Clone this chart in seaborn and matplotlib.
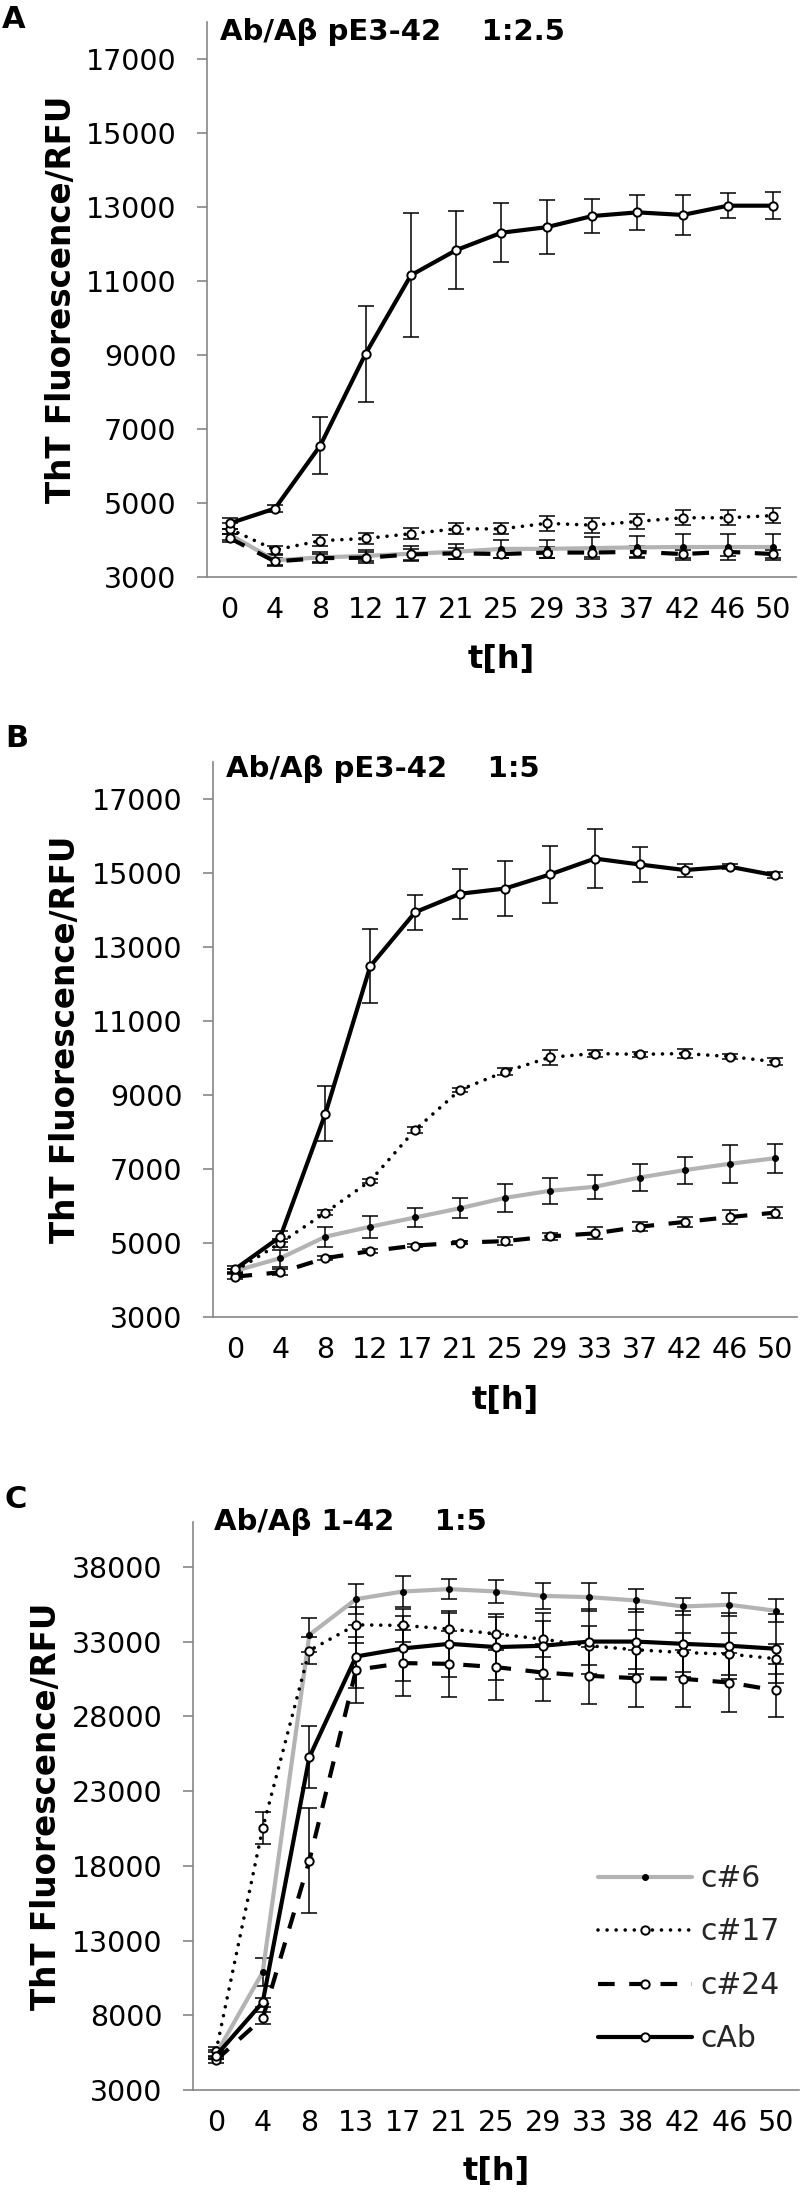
import numpy as np
import pandas as pd
import matplotlib
matplotlib.use("Agg")
import matplotlib.pyplot as plt
import seaborn as sns

# ---------------- data ----------------
time_ab = ["0", "4", "8", "12", "17", "21", "25", "29", "33", "37", "42", "46", "50"]
time_c = ["0", "4", "8", "13", "17", "21", "25", "29", "33", "38", "42", "46", "50"]
series_names = ["c#6", "c#17", "c#24", "cAb"]

# Panel A: Ab/Abeta pE3-42 1:2.5
a_c6 = [4150, 3450, 3530, 3570, 3630, 3680, 3760, 3760, 3780, 3800, 3810, 3810, 3810]
a_c6_err = [150, 150, 150, 150, 200, 200, 250, 250, 300, 300, 350, 350, 350]
a_c17 = [4300, 3730, 3980, 4040, 4170, 4300, 4300, 4450, 4400, 4500, 4600, 4600, 4660]
a_c17_err = [150, 100, 150, 150, 150, 150, 150, 200, 200, 200, 200, 200, 200]
a_c24 = [4050, 3420, 3510, 3520, 3610, 3640, 3620, 3660, 3660, 3680, 3620, 3680, 3620]
a_c24_err = [100, 100, 100, 150, 150, 150, 120, 150, 120, 150, 100, 120, 120]
a_cab = [4450, 4850, 6550, 9030, 11150, 11830, 12300, 12450, 12750, 12850, 12780, 13030, 13030]
a_cab_err = [150, 100, 770, 1300, 1680, 1060, 790, 730, 450, 470, 530, 330, 370]

# Panel B: Ab/Abeta pE3-42 1:5
b_c6 = [4250, 4590, 5170, 5440, 5690, 5940, 6220, 6410, 6520, 6770, 6970, 7140, 7290]
b_c6_err = [60, 230, 270, 300, 250, 270, 370, 355, 325, 370, 365, 510, 390]
b_c17 = [4250, 5000, 5820, 6680, 8060, 9140, 9630, 10020, 10120, 10100, 10120, 10040, 9900]
b_c17_err = [60, 100, 60, 60, 80, 60, 100, 200, 90, 60, 110, 60, 100]
b_c24 = [4090, 4210, 4590, 4780, 4930, 5010, 5050, 5180, 5260, 5440, 5570, 5700, 5820]
b_c24_err = [60, 80, 60, 50, 40, 40, 110, 95, 160, 125, 125, 185, 150]
b_cab = [4300, 5170, 8490, 12480, 13940, 14440, 14580, 14960, 15390, 15230, 15080, 15170, 14940]
b_cab_err = [80, 150, 740, 1000, 470, 670, 740, 760, 790, 460, 175, 60, 80]

# Panel C: Ab/Abeta 1-42 1:5
c_c6 = [5400, 10880, 33450, 35840, 36350, 36510, 36350, 36060, 35970, 35750, 35350, 35460, 35060]
c_c6_err = [300, 940, 1120, 1000, 1050, 690, 780, 850, 940, 760, 580, 780, 780]
c_c17 = [5600, 20520, 32400, 34120, 34080, 33840, 33520, 33160, 32720, 32450, 32270, 32160, 31850]
c_c17_err = [300, 1050, 900, 1200, 1100, 1100, 1100, 1200, 1300, 1300, 1300, 1400, 1000]
c_c24 = [5000, 7800, 18350, 31110, 31560, 31510, 31290, 30930, 30710, 30550, 30510, 30260, 29730]
c_c24_err = [200, 400, 3500, 2200, 2200, 2200, 2200, 1900, 1900, 1900, 1900, 1950, 1750]
c_cab = [5300, 8870, 25270, 32000, 32540, 32850, 32630, 32720, 33000, 33000, 32850, 32720, 32520]
c_cab_err = [250, 300, 2070, 2100, 2200, 2200, 2200, 2200, 2200, 2200, 2200, 2200, 2300]

# ---------------- styles ----------------
styles = {
    "c#6": dict(color="#b3b3b3", linewidth=3.0, linestyle="-", marker="o", markersize=4.2,
                markerfacecolor="black", markeredgecolor="black", markeredgewidth=0.8),
    "c#17": dict(color="black", linewidth=2.6, linestyle=(0, (0.01, 2.5)), dash_capstyle="round",
                 marker="o", markersize=6.0, markerfacecolor="white", markeredgecolor="black",
                 markeredgewidth=1.4),
    "c#24": dict(color="black", linewidth=3.0, linestyle=(0, (4.0, 3.5)),
                 marker="o", markersize=6.0, markerfacecolor="white", markeredgecolor="black",
                 markeredgewidth=1.4),
    "cAb": dict(color="black", linewidth=3.0, linestyle="-",
                marker="o", markersize=6.0, markerfacecolor="white", markeredgecolor="black",
                markeredgewidth=1.4),
}

sns.set_theme(style="white")
plt.rcParams["font.family"] = ["DejaVu Sans"]
plt.rcParams["axes.unicode_minus"] = False

W, H = 800, 2200
fig = plt.figure(figsize=(8, 22), dpi=100)
fig.patch.set_facecolor("white")

def fx(px):
    return px / W

def fy(py):
    return 1 - py / H

AXCOL = "#868686"

def draw_panel(rect, labels, data, ylim, yticks, legend=False):
    left, top, right, bottom = rect
    ax = fig.add_axes([fx(left), fy(bottom), (right - left) / W, (bottom - top) / H])
    pos = np.arange(len(labels))
    for i, name in enumerate(series_names):
        vals, errs = data[name]
        df = pd.DataFrame({"pos": pos, "val": vals})
        ax.errorbar(pos, vals, yerr=errs, fmt="none", ecolor="black", elinewidth=1.1,
                    capsize=5.8, capthick=1.1, zorder=2 + i * 0.1)
        sns.lineplot(data=df, x="pos", y="val", ax=ax, errorbar=None, label=name,
                     zorder=3 + i * 0.1, **styles[name])
    ax.set_xlim(-0.5, len(labels) - 0.5)
    ax.set_ylim(*ylim)
    ax.set_xticks(pos)
    ax.set_xticklabels(labels)
    ax.set_yticks(yticks)
    ax.set_yticklabels([str(t) for t in yticks])
    ax.set_xlabel("")
    ax.set_ylabel("")
    for s in ["top", "right"]:
        ax.spines[s].set_visible(False)
    for s in ["left", "bottom"]:
        ax.spines[s].set_color(AXCOL)
        ax.spines[s].set_linewidth(1.2)
    ax.tick_params(axis="x", length=0, pad=14, labelsize=20.5, colors="black")
    ax.tick_params(axis="y", length=7, width=1.2, color=AXCOL, pad=15, labelsize=20.5,
                   labelcolor="black", direction="out", left=True)
    ax.grid(False)
    ax.set_facecolor("white")
    leg = ax.get_legend()
    if leg is not None:
        leg.remove()
    if legend:
        handles, labs = ax.get_legend_handles_labels()
        fs = 21.5
        fs_px = fs * 100 / 72
        ax.legend(handles, labs, loc="upper left",
                  bbox_to_anchor=(fx(598), fy(1864)), bbox_transform=fig.transFigure,
                  frameon=False, fontsize=fs, handlelength=94 / fs_px,
                  handletextpad=8 / fs_px, labelspacing=0.82, borderpad=0,
                  borderaxespad=0, numpoints=1)
    return ax

# Panel A
draw_panel((207, 21.7, 796, 577), time_ab,
           {"c#6": (a_c6, a_c6_err), "c#17": (a_c17, a_c17_err),
            "c#24": (a_c24, a_c24_err), "cAb": (a_cab, a_cab_err)},
           (3000, 18000), list(range(3000, 17001, 2000)))
# Panel B
draw_panel((213, 762, 797, 1317), time_ab,
           {"c#6": (b_c6, b_c6_err), "c#17": (b_c17, b_c17_err),
            "c#24": (b_c24, b_c24_err), "cAb": (b_cab, b_cab_err)},
           (3000, 18000), list(range(3000, 17001, 2000)))
# Panel C
draw_panel((192.7, 1522, 799.4, 2090), time_c,
           {"c#6": (c_c6, c_c6_err), "c#17": (c_c17, c_c17_err),
            "c#24": (c_c24, c_c24_err), "cAb": (c_cab, c_cab_err)},
           (3000, 41000), list(range(3000, 38001, 5000)), legend=True)

# Texts
bold = dict(fontweight="bold", color="black")
fig.text(fx(2), fy(28), "A", fontsize=22, ha="left", va="baseline", **bold)
fig.text(fx(5), fy(747), "B", fontsize=22, ha="left", va="baseline", **bold)
fig.text(fx(4), fy(1508), "C", fontsize=22, ha="left", va="baseline", **bold)

fig.text(fx(220), fy(39.5), "Ab/A\u03b2 pE3-42    1:2.5", fontsize=21, ha="left", va="baseline", **bold)
fig.text(fx(226), fy(777), "Ab/A\u03b2 pE3-42    1:5", fontsize=21, ha="left", va="baseline", **bold)
fig.text(fx(214), fy(1530), "Ab/A\u03b2 1-42    1:5", fontsize=21, ha="left", va="baseline", **bold)

ylab = "ThT Fluorescence/RFU"
fig.text(fx(62), fy(299), ylab, fontsize=23.5, rotation=90, ha="center", va="center", **bold)
fig.text(fx(66), fy(1039.5), ylab, fontsize=23.5, rotation=90, ha="center", va="center", **bold)
fig.text(fx(47), fy(1806), ylab, fontsize=23.5, rotation=90, ha="center", va="center", **bold)

fig.text(fx(501.5), fy(668), "t[h]", fontsize=23, ha="center", va="baseline", **bold)
fig.text(fx(505), fy(1409), "t[h]", fontsize=23, ha="center", va="baseline", **bold)
fig.text(fx(496), fy(2180), "t[h]", fontsize=23, ha="center", va="baseline", **bold)

fig.savefig("out.png", dpi=100, facecolor="white")
